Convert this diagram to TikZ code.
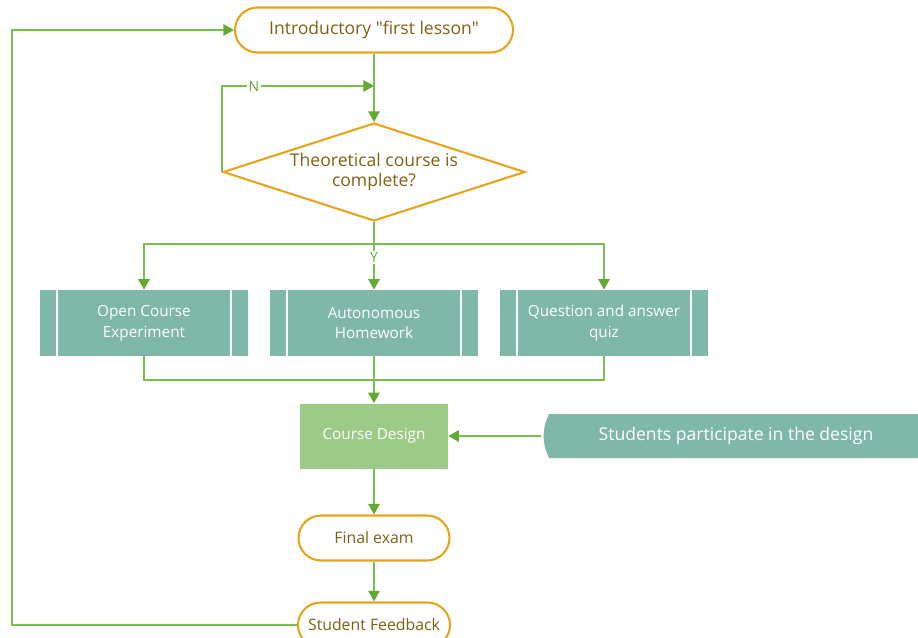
\documentclass[tikz,border=0pt]{standalone}
\usepackage{fontspec}
\setmainfont{Open Sans}[Ligatures=TeXOff]
\usepackage{tikz}
\usetikzlibrary{arrows.meta,positioning,calc,shapes.geometric,shapes.misc}
\usepackage{xcolor}
\definecolor{flowline}{RGB}{122,190,82}
\definecolor{flowtip}{RGB}{98,170,50}
\definecolor{termedge}{RGB}{230,165,30}
\definecolor{termtext}{RGB}{125,98,20}
\definecolor{procfill}{RGB}{127,184,168}
\definecolor{designfill}{RGB}{158,202,135}

\begin{document}
\begin{tikzpicture}[
    term/.style={rounded rectangle,draw=termedge,line width=1.2pt,fill=white,text=termtext,minimum width=#1,minimum height=0.9cm,inner sep=0pt,font=\fontsize{9}{10}\selectfont},
    term/.default=3.02cm,
    decide/.style={diamond,draw=termedge,line width=1.2pt,text=termtext,minimum width=6.04cm,minimum height=1.96cm,aspect=3.08,inner sep=0pt,align=center,font=\fontsize{10}{11.5}\selectfont},
    proc/.style={rectangle,fill=procfill,text=white,minimum width=4.16cm,minimum height=1.32cm,align=center,font=\fontsize{8.7}{11.8}\selectfont,
        path picture={
            \draw[white,line width=1.2pt] ([xshift=0.34cm]path picture bounding box.north west) -- ([xshift=0.34cm]path picture bounding box.south west);
            \draw[white,line width=1.2pt] ([xshift=-0.34cm]path picture bounding box.north east) -- ([xshift=-0.34cm]path picture bounding box.south east);
        }},
    design/.style={rectangle,fill=designfill,text=white,minimum width=2.96cm,minimum height=1.3cm,font=\fontsize{8.7}{10}\selectfont},
    side/.style={rectangle,minimum width=7.8cm,minimum height=0.88cm,text=white,font=\fontsize{10}{11}\selectfont,
        path picture={
            \fill[procfill] ([xshift=0.16cm]path picture bounding box.north west) to[bend right=25] ([xshift=0.16cm]path picture bounding box.south west)
                -- (path picture bounding box.south east) -- (path picture bounding box.north east) -- cycle;
        }},
    flow/.style={draw=flowline,line width=0.8pt},
    arr/.style={flow,-{Triangle[length=6pt,width=6.5pt,color=flowtip]}},
    lbl/.style={fill=white,text=flowtip,inner sep=1pt,font=\fontsize{8}{9}\selectfont}
]
\useasboundingbox (0,0) rectangle (18.36,-12.76);
\clip (0,0) rectangle (18.36,-12.76);

\node[term=5.56cm,font=\fontsize{10}{11}\selectfont] (intro) at (7.48,-0.60) {Introductory "first lesson"};
\node[decide] (check) at (7.48,-3.44) {Theoretical course is\\complete?};
\coordinate (nback) at (7.48,-1.72);

\node[proc] (open) at (2.88,-6.46) {Open Course\\Experiment};
\node[proc] (home) at (7.48,-6.46) {Autonomous\\Homework};
\node[proc] (quiz) at (12.08,-6.46) {Question and answer\\quiz};

\node[design] (course) at (7.48,-8.72) {Course Design};
\node[side] (part) at (14.72,-8.72) {Students participate in the design};

\node[term] (exam) at (7.48,-10.76) {Final exam};
\node[term=3.04cm] (feed) at (7.48,-12.50) {Student Feedback};

% decision loop
\draw[flow] (intro.south) -- (nback);
\draw[arr] (nback) -- (check.north);
\draw[arr] (check.west) |- node[lbl,pos=0.605] {N} (nback);

% branches
\coordinate (split) at (7.48,-4.88);
\draw[flow] (check.south) -- (split);
\draw[arr] (split) -| (open.north);
\draw[arr] (split) -| (quiz.north);
\draw[arr] (split) -- node[lbl,pos=0.3] {Y} (home.north);

% merge
\coordinate (merge) at (7.48,-7.60);
\draw[flow] (open.south) |- (merge);
\draw[flow] (quiz.south) |- (merge);
\draw[flow] (home.south) -- (merge);
\draw[arr] (merge) -- (course.north);

\draw[arr] (part.west) -- (course.east);
\draw[arr] (course.south) -- (exam.north);
\draw[arr] (exam.south) -- (feed.north);

% feedback loop
\draw[arr] (feed.west) -- (0.24,-12.50) |- (intro.west);
\end{tikzpicture}
\end{document}
